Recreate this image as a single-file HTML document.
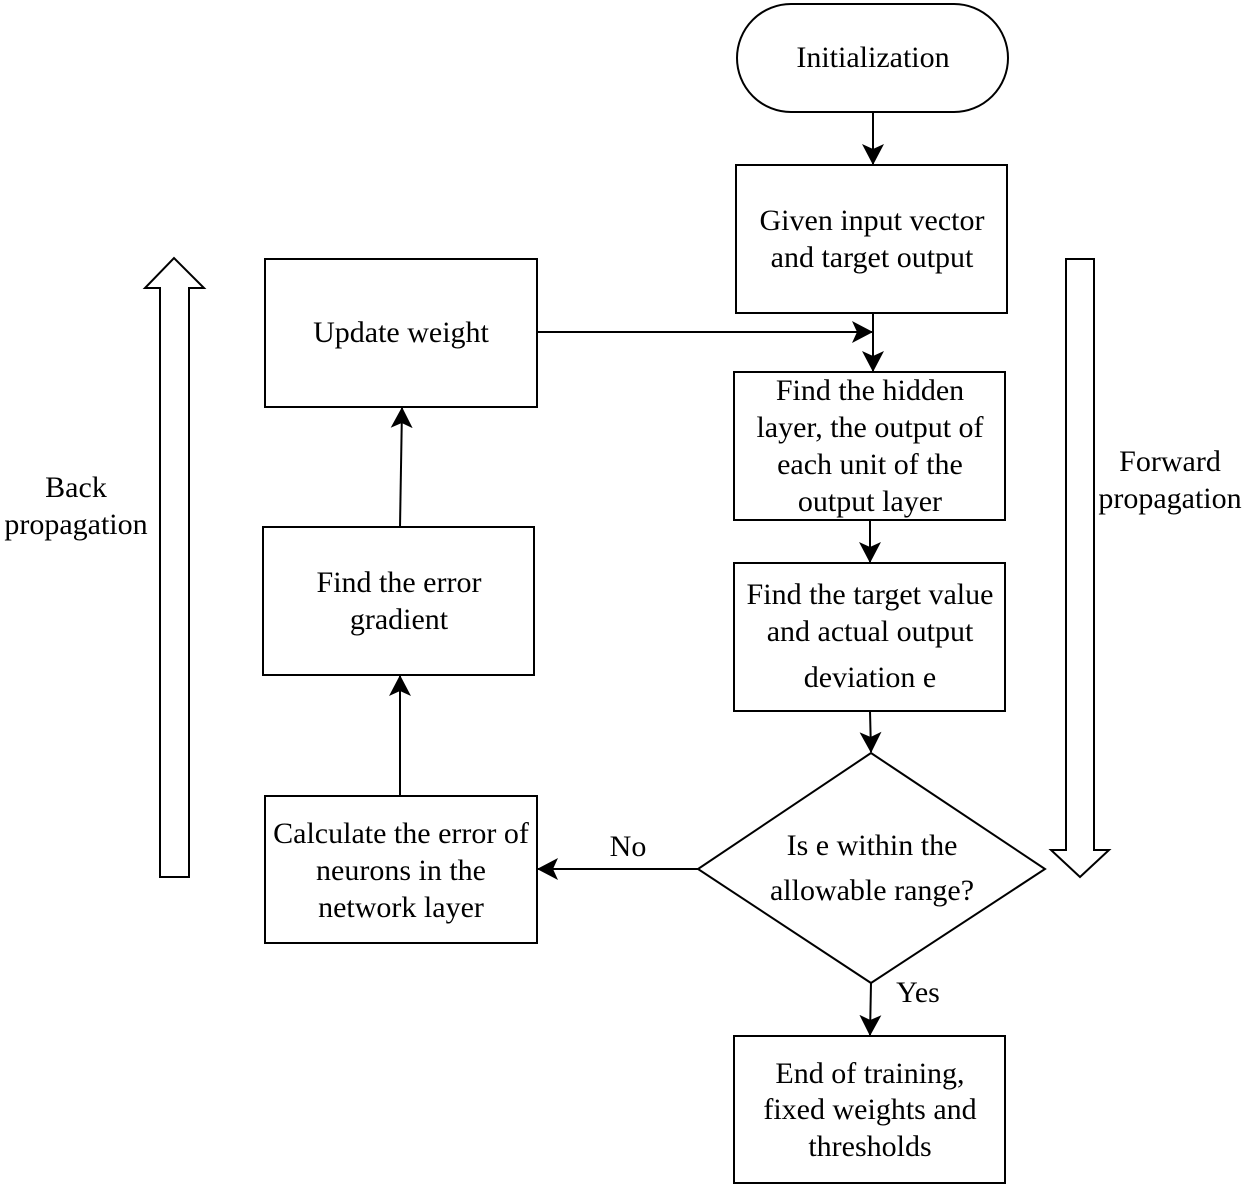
<!DOCTYPE html>
<html><head><style>html,body{margin:0;padding:0;background:#fff}</style></head>
<body>
<svg width="1248" height="1187" viewBox="0 0 1248 1187" xmlns="http://www.w3.org/2000/svg" font-family="Liberation Serif, serif" font-size="30" text-anchor="middle">
<defs>
<marker id="a" markerWidth="22" markerHeight="22" refX="20" refY="11" orient="auto" markerUnits="userSpaceOnUse" viewBox="0 0 22 22">
<path d="M0,0 L21,11 L0,22 L5,11 Z" fill="#000"/>
</marker>
</defs>
<g fill="#fff" stroke="#000" stroke-width="2">
<rect x="737" y="4" width="271" height="108" rx="54"/>
<rect x="736" y="165" width="271" height="148"/>
<rect x="265" y="259" width="272" height="148"/>
<rect x="734" y="372" width="271" height="148"/>
<rect x="734" y="563" width="271" height="148"/>
<polygon points="871,753 1045,869 871,983 698,869"/>
<rect x="734" y="1036" width="271" height="147"/>
<rect x="265" y="796" width="272" height="147"/>
<rect x="263" y="527" width="271" height="148"/>
<polygon points="160,877 189,877 189,288 204,288 174,258 145,288 160,288"/>
<polygon points="1066,259 1094,259 1094,850 1109,850 1080,877 1051,850 1066,850"/>
</g>
<g stroke="#000" stroke-width="2" fill="none" marker-end="url(#a)">
<line x1="873" y1="112" x2="873" y2="164"/>
<line x1="537" y1="332" x2="872" y2="332"/>
<line x1="873" y1="313" x2="873" y2="371"/>
<line x1="870" y1="520" x2="870" y2="562"/>
<line x1="870" y1="711" x2="871" y2="752"/>
<line x1="871" y1="983" x2="870" y2="1035"/>
<line x1="698" y1="869" x2="538" y2="869"/>
<line x1="400" y1="796" x2="400" y2="676"/>
<line x1="400" y1="527" x2="402" y2="408"/>
</g>
<g fill="#000">
<text x="873" y="67">Initialization</text>
<text x="872" y="230">Given input vector</text>
<text x="872" y="267">and target output</text>
<text x="401" y="342">Update weight</text>
<text x="870" y="400">Find the hidden</text>
<text x="870" y="437">layer, the output of</text>
<text x="870" y="474">each unit of the</text>
<text x="870" y="511">output layer</text>
<text x="870" y="604">Find the target value</text>
<text x="870" y="641">and actual output</text>
<text x="870" y="687">deviation e</text>
<text x="872" y="855">Is e within the</text>
<text x="872" y="900">allowable range?</text>
<text x="918" y="1002">Yes</text>
<text x="628" y="856">No</text>
<text x="870" y="1083">End of training,</text>
<text x="870" y="1119">fixed weights and</text>
<text x="870" y="1156">thresholds</text>
<text x="401" y="843">Calculate the error of</text>
<text x="401" y="880">neurons in the</text>
<text x="401" y="917">network layer</text>
<text x="399" y="592">Find the error</text>
<text x="399" y="629">gradient</text>
<text x="76" y="497">Back</text>
<text x="76" y="534">propagation</text>
<text x="1170" y="471">Forward</text>
<text x="1170" y="508">propagation</text>
</g>
</svg>
</body></html>
